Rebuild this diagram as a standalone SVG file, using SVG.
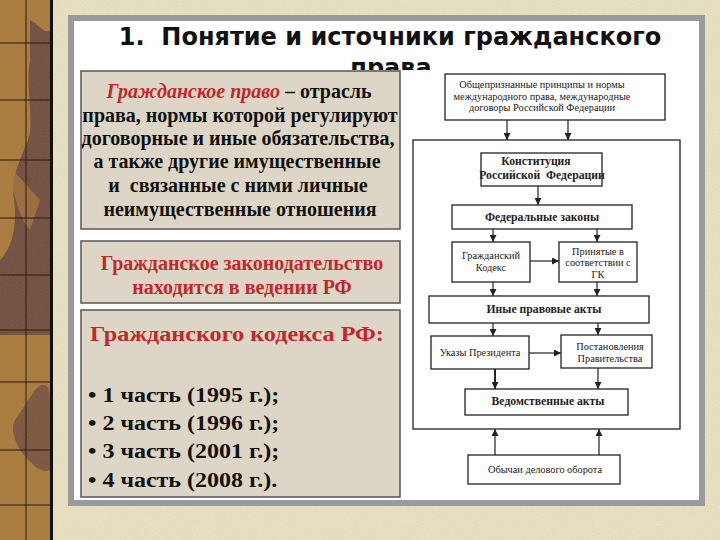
<svg xmlns="http://www.w3.org/2000/svg" width="720" height="540" viewBox="0 0 720 540">
<defs>
<style>
.ttl{font-family:"DejaVu Sans",sans-serif;font-weight:bold;font-size:24px;fill:#111;text-anchor:middle}
.lb{font-family:"Liberation Serif",serif;font-weight:bold;font-size:20px;fill:#111}
.c{text-anchor:middle}
.red{fill:#c0282c}
.lbox{fill:#ddd6c6;stroke:#555;stroke-width:1.5}
.fc{fill:#fff;stroke:#222;stroke-width:1.3}
.ft{font-family:"Liberation Serif",serif;font-size:10.3px;fill:#222;text-anchor:middle}
.fb{font-family:"Liberation Serif",serif;font-size:11.7px;font-weight:bold;fill:#222;text-anchor:middle}
.con line{stroke:#222;stroke-width:1.2;marker-end:url(#ah)}
.grid{stroke:#2a1a12;stroke-width:1}
</style>
<marker id="ah" viewBox="0 0 10 10" refX="10" refY="5" markerWidth="7" markerHeight="7" markerUnits="userSpaceOnUse" orient="auto">
<path d="M0,0 L10,5 L0,10 z" fill="#222"/>
</marker>
<clipPath id="tclip"><rect x="74" y="21" width="625" height="49"/></clipPath>
<filter id="noise" x="0" y="0" width="100%" height="100%">
<feTurbulence type="fractalNoise" baseFrequency="0.9" numOctaves="2" seed="3" result="n"/>
<feColorMatrix in="n" type="matrix" values="0 0 0 0 0.45  0 0 0 0 0.38  0 0 0 0 0.25  0 0 0 0.35 0" result="c"/>
<feComposite in="c" in2="SourceGraphic" operator="in"/>
</filter>
</defs>
<!-- background -->
<rect x="0" y="0" width="720" height="540" fill="#ebe4c7"/>
<rect x="0" y="0" width="720" height="540" fill="#ebe4c7" filter="url(#noise)" opacity="0.6"/>
<!-- left decorative strip -->
<g id="strip">
<rect x="0" y="0" width="51" height="540" fill="#a9793a"/>
<path d="M30,20 C40,25 45,35 50,30 L50,335 L0,335 L0,260 C10,250 18,230 14,200 C10,180 20,160 28,140 C35,120 25,90 30,60 Z" fill="#6f4c3e"/>
<path d="M10,170 C20,175 30,190 40,200 L30,230 C20,220 12,190 10,170 Z" fill="#a9793a" opacity="0.7"/>
<path d="M35,390 C45,380 50,385 50,400 L50,470 C40,475 28,460 20,450 C15,440 10,430 15,420 C22,410 28,400 35,390 Z" fill="#7a5440"/>
<rect x="0" y="0" width="51" height="540" fill="#a9793a" filter="url(#noise)" opacity="0.5"/>
<g class="grid">
<line x1="26" y1="0" x2="26" y2="540"/>
<line x1="0" y1="43" x2="51" y2="43"/>
<line x1="0" y1="100" x2="51" y2="100"/>
<line x1="0" y1="160" x2="51" y2="160"/>
<line x1="0" y1="218" x2="51" y2="218"/>
<line x1="0" y1="275" x2="51" y2="275"/>
<line x1="0" y1="330" x2="51" y2="330"/>
<line x1="0" y1="382" x2="51" y2="382"/>
<line x1="0" y1="450" x2="51" y2="450"/>
<line x1="0" y1="505" x2="51" y2="505"/>
</g>
<rect x="50" y="0" width="3" height="540" fill="#111"/>
</g>
<!-- frame -->
<rect x="68" y="15" width="637" height="491" fill="#9a9a9a"/>
<rect x="74" y="21" width="625" height="479" fill="#ffffff"/>
<!-- title -->
<g id="title" clip-path="url(#tclip)">
<text class="ttl" x="390" y="45" xml:space="preserve">1.  Понятие и источники гражданского</text>
<text class="ttl" x="391" y="76">права</text>
</g>
<!-- left boxes -->
<g id="definition">
<rect class="lbox" x="81" y="71" width="319" height="158"/>
<text class="lb c" x="239" y="98"><tspan class="red" font-style="italic">Гражданское право</tspan> – отрасль</text>
<text class="lb c" x="240" y="122">права, нормы которой регулируют</text>
<text class="lb c" x="238" y="145">договорные и иные обязательства,</text>
<text class="lb c" x="237" y="168">а также другие имущественные</text>
<text class="lb c" x="238" y="192" xml:space="preserve">и  связанные с ними личные</text>
<text class="lb c" x="240" y="216">неимущественные отношения</text>
</g>
<g id="jurisdiction">
<rect class="lbox" x="81" y="241" width="319" height="62"/>
<text class="lb c red" x="242" y="270" font-size="19">Гражданское законодательство</text>
<text class="lb c red" x="242" y="294" font-size="19">находится в ведении РФ</text>
</g>
<g id="codex">
<rect class="lbox" x="81" y="310" width="319" height="187"/>
<text class="lb red" font-size="23" transform="translate(90,341) scale(1.21,1)">Гражданского кодекса РФ:</text>
<text class="lb" font-size="23" transform="translate(88,402) scale(1.2,1)">• 1 часть (1995 г.);</text>
<text class="lb" font-size="23" transform="translate(88,430) scale(1.2,1)">• 2 часть (1996 г.);</text>
<text class="lb" font-size="23" transform="translate(88,458) scale(1.2,1)">• 3 часть (2001 г.);</text>
<text class="lb" font-size="23" transform="translate(88,487) scale(1.2,1)">• 4 часть (2008 г.).</text>
</g>
<!-- flowchart -->
<g id="container"><rect class="fc" x="413" y="140" width="267" height="289" fill="none"/></g>
<g id="intl">
<rect class="fc" x="445" y="74" width="220" height="46"/>
<text class="ft" x="542" y="88">Общепризнанные принципы и нормы</text>
<text class="ft" x="542" y="100">международного права, международные</text>
<text class="ft" x="542" y="111">договоры Российской Федерации</text>
</g>
<g id="constitution">
<rect class="fc" x="481" y="153" width="121" height="33"/>
<text class="fb" x="536" y="165">Конституция</text>
<text class="fb" x="542" y="179" xml:space="preserve">Российской  Федерации</text>
</g>
<g id="fedlaws">
<rect class="fc" x="452" y="205" width="180" height="24"/>
<text class="fb" x="542" y="221">Федеральные законы</text>
</g>
<g id="gk">
<rect class="fc" x="452" y="242" width="78" height="40"/>
<text class="ft" x="491" y="259">Гражданский</text>
<text class="ft" x="491" y="271">Кодекс</text>
</g>
<g id="accordance">
<rect class="fc" x="559" y="242" width="78" height="40"/>
<text class="ft" x="598" y="255">Принятые в</text>
<text class="ft" x="598" y="266">соответствии с</text>
<text class="ft" x="598" y="278">ГК</text>
</g>
<g id="other">
<rect class="fc" x="429" y="296" width="220" height="27"/>
<text class="fb" x="544" y="313">Иные правовые акты</text>
</g>
<g id="decrees">
<rect class="fc" x="431" y="336" width="98" height="33"/>
<text class="ft" x="480" y="356">Указы Президента</text>
</g>
<g id="resolutions">
<rect class="fc" x="561" y="335" width="91" height="33"/>
<text class="ft" x="610" y="350">Постановления</text>
<text class="ft" x="610" y="362">Правительства</text>
</g>
<g id="departmental">
<rect class="fc" x="465" y="389" width="163" height="26"/>
<text class="fb" x="548" y="405">Ведомственные акты</text>
</g>
<g id="customs">
<rect class="fc" x="468" y="455" width="152" height="29"/>
<text class="ft" x="545" y="473">Обычаи делового оборота</text>
</g>
<g id="connectors" class="con">
<line x1="507" y1="120" x2="507" y2="140"/>
<line x1="568" y1="120" x2="568" y2="140"/>
<line x1="538" y1="186" x2="538" y2="205"/>
<line x1="493" y1="229" x2="493" y2="242"/>
<line x1="597" y1="229" x2="597" y2="242"/>
<line x1="530" y1="261" x2="559" y2="261"/>
<line x1="493" y1="282" x2="493" y2="296"/>
<line x1="597" y1="282" x2="597" y2="296"/>
<line x1="493" y1="323" x2="493" y2="336"/>
<line x1="598" y1="323" x2="598" y2="335"/>
<line x1="529" y1="353" x2="561" y2="353"/>
<line x1="495" y1="369" x2="495" y2="389" style="stroke-width:2"/>
<line x1="598" y1="368" x2="598" y2="389"/>
<line x1="495" y1="455" x2="495" y2="429"/>
<line x1="599" y1="455" x2="599" y2="429"/>
</g>
</svg>
